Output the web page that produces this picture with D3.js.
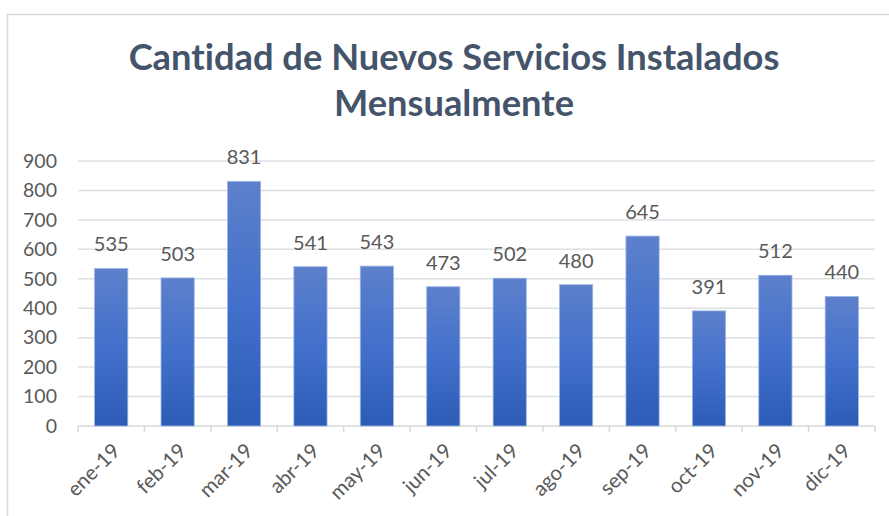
<!DOCTYPE html>
<html>
<head>
<meta charset="utf-8">
<script src="https://cdn.jsdelivr.net/npm/d3@7"></script>
<style>
  body { margin: 0; background: #fff; }
  text { font-family: Lato, "Open Sans", sans-serif; font-variant-ligatures: none; }
</style>
</head>
<body>
<svg id="chart" width="889" height="516"></svg>
<script>
// datos
const months = ["ene-19", "feb-19", "mar-19", "abr-19", "may-19", "jun-19",
                "jul-19", "ago-19", "sep-19", "oct-19", "nov-19", "dic-19"];
const installed = [535, 503, 831, 541, 543, 473, 502, 480, 645, 391, 512, 440];
const yTicks = [0, 100, 200, 300, 400, 500, 600, 700, 800, 900];
const titleLines = ["Cantidad de Nuevos Servicios Instalados", "Mensualmente"];

const svg = d3.select("#chart");
const plot = { left: 78, right: 875, top: 161, bottom: 426 };

// marco del gráfico
svg.append("rect")
    .attr("x", 7.5).attr("y", 14.5)
    .attr("width", 900).attr("height", 600)
    .attr("fill", "none")
    .attr("stroke", "#d9d9d9")
    .attr("stroke-width", 1.5);

// degradado de las barras
const grad = svg.append("defs").append("linearGradient")
    .attr("id", "barGrad")
    .attr("x1", 0).attr("y1", 0).attr("x2", 0).attr("y2", 1);
grad.append("stop").attr("offset", "0%").attr("stop-color", "#5d80cb");
grad.append("stop").attr("offset", "50%").attr("stop-color", "#4270cb");
grad.append("stop").attr("offset", "100%").attr("stop-color", "#2d5cb6");

const x = d3.scaleBand()
    .domain(months)
    .range([plot.left, plot.right])
    .paddingInner(0.5)
    .paddingOuter(0.25);

const y = d3.scaleLinear()
    .domain([0, 900])
    .range([plot.bottom, plot.top]);

// líneas de cuadrícula
svg.append("g")
    .selectAll("line")
    .data(yTicks.filter(d => d > 0))
    .join("line")
    .attr("x1", plot.left).attr("x2", plot.right)
    .attr("y1", d => y(d)).attr("y2", d => y(d))
    .attr("stroke", "#dcdfe4")
    .attr("stroke-width", 1.5);

// eje Y
const yAxis = svg.append("g")
    .attr("transform", `translate(${plot.left},0)`)
    .call(d3.axisLeft(y).tickValues(yTicks).tickSize(0).tickPadding(21));
yAxis.select(".domain").remove();
yAxis.selectAll("text")
    .attr("font-size", 19.5)
    .attr("fill", "#595959")
    .style("font-family", "Lato, sans-serif");

// eje X: línea base y marcas entre categorías
const xAxis = svg.append("g");
xAxis.append("line")
    .attr("x1", plot.left).attr("x2", plot.right)
    .attr("y1", plot.bottom).attr("y2", plot.bottom)
    .attr("stroke", "#d9d9d9")
    .attr("stroke-width", 1.5);
const step = x.step();
xAxis.selectAll(".tick-mark")
    .data(d3.range(months.length + 1))
    .join("line")
    .attr("class", "tick-mark")
    .attr("x1", i => plot.left + i * step).attr("x2", i => plot.left + i * step)
    .attr("y1", plot.bottom).attr("y2", plot.bottom + 6)
    .attr("stroke", "#d9d9d9")
    .attr("stroke-width", 1.5);
xAxis.selectAll(".month")
    .data(months)
    .join("text")
    .attr("class", "month")
    .attr("transform", d => `translate(${x(d) + x.bandwidth() / 2 + 5},${plot.bottom + 21}) rotate(-45)`)
    .attr("text-anchor", "end")
    .attr("dy", "0.35em")
    .attr("font-size", 20.5)
    .attr("fill", "#595959")
    .text(d => d);

// barras
svg.append("g")
    .selectAll("rect")
    .data(installed)
    .join("rect")
    .attr("x", (d, i) => x(months[i]))
    .attr("y", d => y(d))
    .attr("width", x.bandwidth())
    .attr("height", d => y(0) - y(d))
    .attr("fill", "url(#barGrad)")
    .attr("stroke", "#9fb6e3")
    .attr("stroke-width", 0.8);

// etiquetas de datos
svg.append("g")
    .selectAll("text")
    .data(installed)
    .join("text")
    .attr("x", (d, i) => x(months[i]) + x.bandwidth() / 2)
    .attr("y", d => y(d) - 17)
    .attr("text-anchor", "middle")
    .attr("font-size", 20)
    .attr("fill", "#595959")
    .text(d => d);

// título
const title = svg.append("g");
title.selectAll("text")
    .data(titleLines)
    .join("text")
    .attr("x", 454)
    .attr("y", (d, i) => 70 + i * 46)
    .attr("text-anchor", "middle")
    .attr("font-weight", "bold")
    .attr("font-size", 34)
    .attr("fill", "#44546a")
    .text(d => d);
// ajustar tamaño al ancho del original
const first = title.select("text").node();
const w = first.getComputedTextLength();
const fs = 34 * 651 / w;
title.selectAll("text").attr("font-size", fs);
</script>
</body>
</html>
